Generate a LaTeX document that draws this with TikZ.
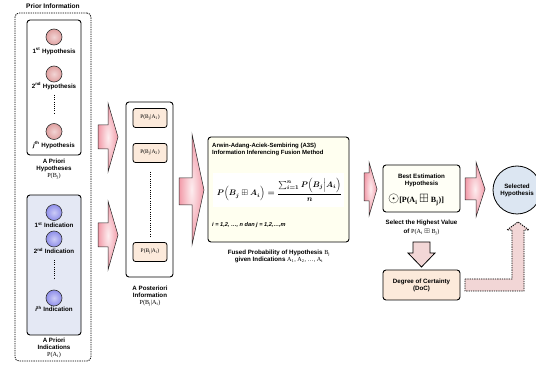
\documentclass[tikz,border=0pt]{standalone}
\usepackage{amsmath,amssymb,graphicx}
\usepackage{fontspec}
\setmainfont{Liberation Sans}
\newfontfamily\serifb{Liberation Serif}
\usetikzlibrary{shapes.geometric}
\definecolor{arrowpink}{HTML}{F29AA8}
\definecolor{arrowlight}{HTML}{FDEDEF}
\definecolor{hypfill}{HTML}{E0A0A0}
\definecolor{indfill}{HTML}{8E8EEA}
\definecolor{indbox}{HTML}{E4E8F4}
\definecolor{peach}{HTML}{FCEADB}
\definecolor{cream}{HTML}{FFFFF0}
\definecolor{selblue}{HTML}{DCE6F2}
\definecolor{lpink}{HTML}{F2D6D6}
\tikzset{
  lbl/.style={font=\bfseries\fontsize{6.2}{7}\selectfont, inner sep=0pt, align=center},
  rbox/.style={draw, rounded corners=3pt, line width=0.9pt},
  hypcirc/.style={circle, draw=black!80, line width=0.6pt, minimum size=16pt, inner sep=0pt, inner color=hypfill!45!white, outer color=hypfill},
  indcirc/.style={circle, draw=black!80, line width=0.6pt, minimum size=16pt, inner sep=0pt, inner color=indfill!45!white, outer color=indfill},
  pbox/.style={draw, rounded corners=2.5pt, line width=0.8pt, fill=peach, minimum width=34pt, minimum height=19pt, inner sep=0pt, font=\serifb\fontsize{5.5}{6}\selectfont},
  blockarrow/.style={draw=black!85, line width=0.5pt, inner color=arrowlight, outer color=arrowpink},
  dots/.style={line width=1pt, dash pattern=on 1pt off 1.2pt},
}
\begin{document}
\begin{tikzpicture}[x=1pt,y=-1pt]
\useasboundingbox (0,0) rectangle (536,366);

% Prior information
\node[draw, rounded corners=4pt, line width=0.8pt, dash pattern=on 1.3pt off 1pt, minimum width=76pt, minimum height=348pt, inner sep=0pt] (prior) at (53,187) {};
\node[lbl, font=\bfseries\fontsize{6.6}{7}\selectfont] (priortitle) at (53,6) {Prior Information};

\node[rbox, fill=white, minimum width=54pt, minimum height=135pt, inner sep=0pt] (hypbox) at (54,87.5) {};
\node[hypcirc] (h1) at (54,37) {};
\node[lbl] (h1l) at (54,51) {1\textsuperscript{st} Hypothesis};
\node[hypcirc] (h2) at (54,74) {};
\node[lbl] (h2l) at (54,86) {2\textsuperscript{nd} Hypothesis};
\coordinate (hd1) at (54,95);
\coordinate (hd2) at (54,114);
\draw[dots] (hd1) -- (hd2);
\node[hypcirc] (hj) at (54,131.5) {};
\node[lbl] (hjl) at (54,145) {\textit{j}\textsuperscript{th} Hypothesis};
\node[lbl, anchor=north] (hyplab) at (54,159) {A Priori\\Hypotheses\\{\serifb\mdseries P(B\textsubscript{j})}};

\node[rbox, fill=indbox, minimum width=54pt, minimum height=140pt, inner sep=0pt] (indbox) at (54,265) {};
\node[indcirc] (i1) at (54,212.5) {};
\node[lbl] (i1l) at (54,225) {1\textsuperscript{st} Indication};
\node[indcirc] (i2) at (54,239) {};
\node[lbl] (i2l) at (54,251) {2\textsuperscript{nd} Indication};
\coordinate (id1) at (54,260);
\coordinate (id2) at (54,279);
\draw[dots] (id1) -- (id2);
\node[indcirc] (ii) at (54,298) {};
\node[lbl] (iil) at (54,309) {\textit{i}\textsuperscript{th} Indication};
\node[lbl, anchor=north] (indlab) at (54,337.5) {A Priori\\Indications\\{\serifb\mdseries P(A\textsubscript{i})}};

% arrows to posterior
\path[blockarrow] (98,125)--(108,125)--(108,103)--(118,137)--(108,172)--(108,149)--(98,149)--cycle;
\path[blockarrow] (98,223)--(108,223)--(108,201)--(118,235)--(108,270)--(108,247)--(98,247)--cycle;

% posterior
\node[rbox, fill=white, minimum width=47pt, minimum height=175pt, inner sep=0pt] (post) at (149.5,189.5) {};
\node[pbox] (p1) at (150,118) {P(B\textsubscript{j}|A\textsubscript{1})};
\node[pbox] (p2) at (150,153) {P(B\textsubscript{j}|A\textsubscript{2})};
\node[pbox] (p3) at (150,252) {P(B\textsubscript{j}|A\textsubscript{i})};
\coordinate (pd1) at (150,172);
\coordinate (pd2) at (150,238);
\draw[dots] (pd1) -- (pd2);
\node[lbl, anchor=north] (postlab) at (150,286) {A Posteriori\\Information\\{\serifb\mdseries P(B\textsubscript{j}|A\textsubscript{i})}};

% big arrow
\path[blockarrow] (179,178)--(192,178)--(192,134)--(204,190)--(192,245)--(192,205)--(179,205)--cycle;

% method box
\node[rbox, fill=cream, minimum width=141pt, minimum height=105pt, inner sep=0pt] (method) at (278.5,189.5) {};
\node[lbl, anchor=north west, align=left, font=\bfseries\fontsize{6}{7.2}\selectfont] (mtitle) at (212,143) {Arwin-Adang-Aciek-Sembiring (A3S)\\Information Inferencing Fusion Method};
\node[fill=white, minimum width=131pt, minimum height=34pt, inner sep=0pt] (formulabg) at (278,190) {};
\node[inner sep=0pt] (formula) at (279.5,190)
  {\resizebox{125pt}{!}{\boldmath$P\Big(B_j \boxplus A_i\Big) = \dfrac{\sum_{i=1}^{n} P\Big(B_j \Big| A_i\Big)}{n}$}};
\node[lbl, anchor=west, font=\bfseries\itshape\fontsize{5.6}{7}\selectfont] (mrange) at (212,225) {i = 1,2, \dots, n dan j = 1,2,\dots,m};
\node[lbl, anchor=north] (fusedlab) at (279,249.5) {Fused Probability of Hypothesis {\serifb\mdseries B\textsubscript{j}}\\given Indications {\serifb\mdseries A\textsubscript{1}, A\textsubscript{2}, \dots, A\textsubscript{i}}};

% arrow to best
\path[blockarrow] (364,173)--(369,173)--(369,162)--(377,189)--(369,216)--(369,201)--(364,201)--cycle;

% best estimation
\node[rbox, fill=cream!60!white, minimum width=77pt, minimum height=47pt, inner sep=0pt] (best) at (421.5,188.5) {};
\node[lbl, anchor=north] (besttitle) at (421.5,173.5) {Best Estimation\\Hypothesis};
\node[inner sep=0pt, font=\serifb\bfseries\fontsize{8}{9}\selectfont] (bestf) at (416,200) {{\Large$\odot$}[P(A\textsubscript{i} {\large$\boxplus$} B\textsubscript{j})]};
\node[lbl, anchor=north] (sellab) at (421.5,219.5) {Select the Highest Value};
\node[lbl, anchor=north] (sellab2) at (421.5,228.5) {of {\serifb\mdseries P(A\textsubscript{i} $\boxplus$ B\textsubscript{j})}};

% arrow to selected
\path[blockarrow] (465,178)--(476,178)--(476,162)--(485,189)--(476,217)--(476,200)--(465,200)--cycle;

% selected
\node[circle, draw, line width=0.8pt, fill=selblue, minimum size=48pt, inner sep=0pt] (sel) at (517,190) {};
\node[lbl] (sellbl) at (517,190) {Selected\\Hypothesis};

% down arrow
\path[draw, line width=0.8pt, fill=lpink] (413,242)--(430,242)--(430,253)--(435,253)--(421.5,267)--(408,253)--(413,253)--cycle;

% DoC
\node[rbox, fill=peach, minimum width=77pt, minimum height=30pt, inner sep=0pt] (doc) at (421.5,285) {};
\node[lbl] (doclbl) at (421.5,285) {Degree of Certainty\\(DoC)};

% dashed L arrow
\path[draw, line width=0.9pt, dash pattern=on 1.3pt off 1pt, fill=lpink] (465,279)--(512,279)--(512,230)--(507,230)--(518,222)--(529,230)--(524,230)--(524,291)--(465,291)--cycle;
\end{tikzpicture}
\end{document}
